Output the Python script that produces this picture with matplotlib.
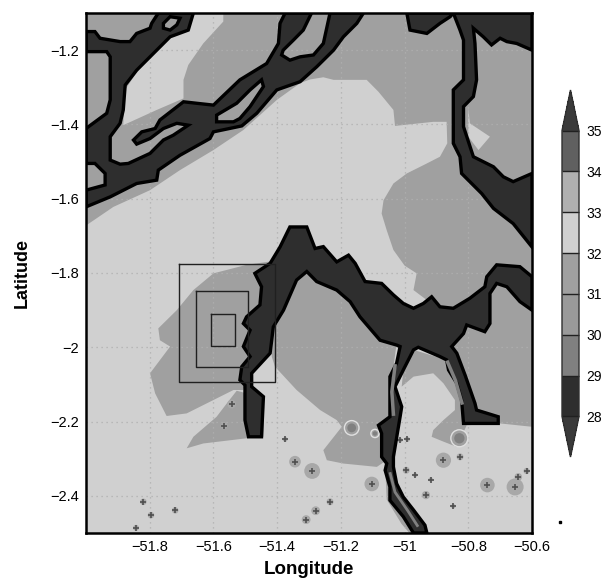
import matplotlib
matplotlib.use('Agg')
import matplotlib.pyplot as plt
from matplotlib.colors import ListedColormap, BoundaryNorm
from matplotlib.colorbar import ColorbarBase

plt.rcParams['font.family'] = ['Liberation Sans', 'DejaVu Sans']

# colour classes
levels = [28, 29, 30, 31, 32, 33, 34, 35]
level_colors = ['#2e2e2e', '#808080', '#9a9a9a', '#a0a0a0', '#d0d0d0', '#b0b0b0', '#606060']
under_color = '#3a3a3a'
over_color = '#3a3a3a'

xticks = [-51.8, -51.6, -51.4, -51.2, -51, -50.8, -50.6]
xticklabels = ['\u221251.8', '\u221251.6', '\u221251.4', '\u221251.2', '\u221251', '\u221250.8', '\u221250.6']
yticks = [-1.2, -1.4, -1.6, -1.8, -2, -2.2, -2.4]
yticklabels = ['\u22121.2', '\u22121.4', '\u22121.6', '\u22121.8', '\u22122', '\u22122.2', '\u22122.4']

# 31-32 area, north of the light water
mid_north = [(-52, -1.1), (-50.6, -1.1), (-50.6, -2.214), (-50.70, -2.205), (-50.805, -2.21), (-50.815, -2.187),
             (-50.868, -2.025), (-50.93, -1.873), (-50.972, -1.846), (-50.962, -1.801), (-51.0, -1.78),
             (-51.035, -1.738), (-51.056, -1.685), (-51.072, -1.64), (-51.066, -1.604), (-51.035, -1.559),
             (-50.993, -1.532), (-50.93, -1.505), (-50.889, -1.487), (-50.866, -1.451), (-50.868, -1.393),
             (-50.91, -1.393), (-51.03, -1.404), (-51.035, -1.361), (-51.082, -1.312), (-51.119, -1.28),
             (-51.223, -1.28), (-51.255, -1.273), (-51.297, -1.279), (-51.328, -1.289), (-51.401, -1.334),
             (-51.506, -1.415), (-51.6, -1.469), (-51.705, -1.523), (-51.799, -1.577), (-51.914, -1.622),
             (-51.998, -1.671), (-52, -1.671)]

# 32-33 strip inside the north area
light_strip = [(-51.663, -1.1), (-51.569, -1.1), (-51.569, -1.123), (-51.632, -1.182), (-51.679, -1.24),
               (-51.694, -1.28), (-51.694, -1.33), (-51.778, -1.361), (-51.883, -1.402), (-51.877, -1.307),
               (-51.83, -1.245), (-51.768, -1.182), (-51.705, -1.146)]
light_wedge = [(-50.8, -1.357), (-50.795, -1.397), (-50.732, -1.433), (-50.768, -1.469), (-50.8, -1.433)]

# 31-32 patches south of the light water
mid_west = [(-51.422, -1.769), (-51.496, -1.778), (-51.6, -1.801), (-51.663, -1.846), (-51.715, -1.9),
            (-51.773, -1.949), (-51.768, -1.981), (-51.736, -1.998), (-51.799, -2.07), (-51.783, -2.124),
            (-51.747, -2.185), (-51.684, -2.178), (-51.537, -2.115), (-51.506, -2.115), (-51.485, -2.034),
            (-51.443, -1.9)]
mid_wedge = [(-51.527, -2.117), (-51.558, -2.151), (-51.59, -2.187), (-51.663, -2.241), (-51.684, -2.272),
             (-51.632, -2.259), (-51.496, -2.245), (-51.443, -2.241), (-51.441, -2.16), (-51.496, -2.124)]
mid_center = [(-51.38, -1.85), (-51.3, -1.78), (-51.2, -1.8), (-51.1, -1.85), (-51.0, -1.92), (-51.025, -1.99),
              (-51.046, -2.124), (-51.056, -2.304), (-51.087, -2.322), (-51.192, -2.313), (-51.244, -2.304),
              (-51.255, -2.277), (-51.197, -2.214), (-51.213, -2.196), (-51.265, -2.169), (-51.339, -2.115),
              (-51.407, -2.052), (-51.417, -2.025), (-51.412, -1.945)]
mid_fork = [(-51.004, -2.061), (-50.972, -2.007), (-50.868, -2.034), (-50.815, -2.142), (-50.805, -2.21),
            (-50.836, -2.268), (-50.878, -2.254), (-50.915, -2.241), (-50.91, -2.223), (-50.878, -2.196),
            (-50.842, -2.169), (-50.842, -2.142), (-50.878, -2.097), (-50.91, -2.07), (-50.972, -2.079),
            (-51.009, -2.106)]
mid_fringe = [(-51.061, -2.32), (-51.056, -2.41), (-51.01, -2.475), (-50.985, -2.5), (-50.95, -2.5), (-51.03, -2.36)]

# 28-29 channels
dark_northwest = [(-52, -1.15), (-51.972, -1.15), (-51.956, -1.168), (-51.893, -1.177), (-51.862, -1.177),
                  (-51.841, -1.155), (-51.799, -1.141), (-51.794, -1.128), (-51.773, -1.1), (-51.663, -1.1),
                  (-51.679, -1.146), (-51.736, -1.164), (-51.799, -1.218), (-51.841, -1.254), (-51.877, -1.294),
                  (-51.883, -1.361), (-51.893, -1.397), (-51.924, -1.433), (-51.924, -1.496), (-51.893, -1.507),
                  (-51.867, -1.505), (-51.799, -1.478), (-51.757, -1.442), (-51.726, -1.429), (-51.679, -1.402),
                  (-51.715, -1.397), (-51.757, -1.411), (-51.799, -1.438), (-51.841, -1.453), (-51.851, -1.442),
                  (-51.825, -1.42), (-51.783, -1.411), (-51.768, -1.388), (-51.694, -1.339), (-51.653, -1.343),
                  (-51.6, -1.348), (-51.517, -1.28), (-51.433, -1.236), (-51.396, -1.182), (-51.391, -1.128),
                  (-51.375, -1.1), (-51.292, -1.1), (-51.318, -1.146), (-51.349, -1.173), (-51.381, -1.2),
                  (-51.386, -1.213), (-51.36, -1.227), (-51.328, -1.218), (-51.286, -1.213), (-51.255, -1.182),
                  (-51.234, -1.1), (-51.129, -1.1), (-51.15, -1.128), (-51.192, -1.164), (-51.223, -1.2),
                  (-51.276, -1.245), (-51.328, -1.285), (-51.401, -1.307), (-51.464, -1.37), (-51.511, -1.404),
                  (-51.6, -1.42), (-51.611, -1.438), (-51.705, -1.483), (-51.773, -1.523), (-51.778, -1.55),
                  (-51.841, -1.559), (-51.924, -1.595), (-52, -1.622), (-52, -1.577), (-51.94, -1.563),
                  (-51.94, -1.532), (-51.972, -1.505), (-52, -1.505), (-52, -1.411), (-51.935, -1.37),
                  (-51.924, -1.334), (-51.924, -1.218), (-51.935, -1.204), (-52, -1.204)]
hole_slit = [(-51.59, -1.393), (-51.59, -1.375), (-51.527, -1.343), (-51.485, -1.307), (-51.449, -1.28),
             (-51.443, -1.298), (-51.485, -1.352), (-51.517, -1.384), (-51.537, -1.393)]
hole_top = [(-51.757, -1.128), (-51.736, -1.11), (-51.705, -1.114), (-51.715, -1.132), (-51.736, -1.146),
            (-51.757, -1.141)]
dark_lobe = [(-50.993, -1.1), (-50.983, -1.146), (-50.93, -1.155), (-50.889, -1.128), (-50.857, -1.11),
             (-50.847, -1.1)]
dark_northeast = [(-50.847, -1.1), (-50.6, -1.1), (-50.6, -1.2), (-50.648, -1.182), (-50.679, -1.177),
                  (-50.70, -1.168), (-50.727, -1.186), (-50.753, -1.164), (-50.784, -1.141), (-50.779, -1.182),
                  (-50.774, -1.28), (-50.784, -1.325), (-50.815, -1.352), (-50.815, -1.406), (-50.784, -1.487),
                  (-50.721, -1.514), (-50.69, -1.541), (-50.659, -1.554), (-50.6, -1.532), (-50.6, -1.73),
                  (-50.659, -1.667), (-50.721, -1.626), (-50.758, -1.586), (-50.821, -1.532), (-50.826, -1.487),
                  (-50.847, -1.451), (-50.847, -1.307), (-50.815, -1.28), (-50.815, -1.173), (-50.826, -1.146)]
dark_center = [(-51.36, -1.676), (-51.307, -1.676), (-51.281, -1.734), (-51.255, -1.729), (-51.213, -1.77),
               (-51.176, -1.752), (-51.155, -1.774), (-51.124, -1.823), (-51.072, -1.828), (-51.035, -1.859),
               (-51.004, -1.882), (-50.972, -1.895), (-50.941, -1.882), (-50.915, -1.864), (-50.889, -1.891),
               (-50.847, -1.895), (-50.795, -1.868), (-50.748, -1.837), (-50.742, -1.81), (-50.711, -1.778),
               (-50.638, -1.783), (-50.6, -1.81), (-50.6, -1.9), (-50.638, -1.877), (-50.679, -1.837),
               (-50.711, -1.828), (-50.732, -1.855), (-50.732, -1.936), (-50.748, -1.958), (-50.805, -1.94),
               (-50.815, -1.963), (-50.852, -1.998), (-50.836, -2.016), (-50.81, -2.075), (-50.779, -2.151),
               (-50.774, -2.169), (-50.706, -2.187), (-50.706, -2.205), (-50.815, -2.205), (-50.821, -2.142),
               (-50.836, -2.097), (-50.862, -2.061), (-50.868, -2.034), (-50.889, -2.025), (-50.957, -2.0),
               (-50.972, -2.007), (-51.004, -2.061), (-51.03, -2.106), (-51.009, -2.16), (-51.014, -2.187),
               (-51.035, -2.295), (-51.035, -2.322), (-51.025, -2.367), (-51.004, -2.403), (-50.972, -2.438),
               (-50.936, -2.479), (-50.93, -2.5), (-50.972, -2.5), (-51.004, -2.456), (-51.046, -2.412),
               (-51.046, -2.376), (-51.061, -2.331), (-51.056, -2.313), (-51.072, -2.295), (-51.072, -2.232),
               (-51.082, -2.21), (-51.046, -2.187), (-51.046, -2.079), (-51.025, -2.043), (-51.014, -1.998),
               (-51.025, -1.994), (-51.077, -1.981), (-51.14, -1.918), (-51.171, -1.877), (-51.213, -1.846),
               (-51.276, -1.823), (-51.307, -1.796), (-51.339, -1.819), (-51.38, -1.9), (-51.412, -1.945),
               (-51.422, -2.016), (-51.48, -2.07), (-51.48, -2.106), (-51.443, -2.133), (-51.449, -2.241),
               (-51.49, -2.241), (-51.501, -2.196), (-51.501, -2.102), (-51.517, -2.088), (-51.511, -2.052),
               (-51.485, -2.025), (-51.506, -1.998), (-51.485, -1.954), (-51.506, -1.936), (-51.496, -1.918),
               (-51.454, -1.886), (-51.449, -1.837), (-51.47, -1.801), (-51.422, -1.774), (-51.391, -1.73)]

# 29-30 core of the narrow channels
core_left_lon = [-51.03, -51.04, -51.035]
core_left_lat = [-2.05, -2.12, -2.18]
core_right_lon = [-50.865, -50.84, -50.82]
core_right_lat = [-2.04, -2.09, -2.15]
core_south_lon = [-51.045, -51.03, -50.99, -50.96]
core_south_lat = [-2.34, -2.39, -2.44, -2.48]

# the three nested boxes
box_lon0 = [-51.707, -51.655, -51.609]
box_lon1 = [-51.407, -51.49, -51.532]
box_lat0 = [-1.776, -1.848, -1.911]
box_lat1 = [-2.093, -2.052, -1.996]

# small shallow spots
spot_lon = [-51.543, -51.566, -51.375, -51.344, -51.29, -51.82, -51.796, -51.72, -51.843, -51.279, -51.309,
            -51.234, -51.103, -51.014, -50.991, -50.995, -50.967, -50.918, -50.933, -50.847, -50.826,
            -50.878, -50.74, -50.653, -50.617, -50.643]
spot_lat = [-2.153, -2.211, -2.248, -2.308, -2.333, -2.416, -2.452, -2.439, -2.486, -2.44, -2.464,
            -2.416, -2.368, -2.25, -2.248, -2.331, -2.344, -2.356, -2.398, -2.428, -2.295,
            -2.304, -2.371, -2.376, -2.333, -2.349]
spot_size = [40, 25, 12, 70, 130, 22, 22, 22, 18, 40, 40,
             25, 110, 12, 12, 25, 10, 10, 35, 10, 25,
             120, 110, 150, 20, 30]
ring_lon = [-51.166, -51.093, -50.828]
ring_lat = [-2.217, -2.232, -2.245]
ring_size = [110, 35, 150]

fig = plt.figure(figsize=(6.08, 5.79), dpi=100)
ax = fig.add_axes([86 / 608, 1 - 533 / 579, (532 - 86) / 608, (533 - 13) / 579])
ax.set_facecolor(level_colors[4])

mid = level_colors[3]
dark = level_colors[0]


def fill(points, color, edge='none', lw=0, z=1):
    ax.fill([p[0] for p in points], [p[1] for p in points], facecolor=color, edgecolor=edge, linewidth=lw, zorder=z)


fill(mid_north, mid)
fill(light_strip, level_colors[4], z=2)
fill(light_wedge, level_colors[4], z=2)
for patch in [mid_west, mid_wedge, mid_center, mid_fork, mid_fringe]:
    fill(patch, mid, z=2)

# spots go under the channels
ax.scatter(spot_lon, spot_lat, s=spot_size, color='#a8a8a8', linewidths=0, zorder=3)
ax.scatter(spot_lon, spot_lat, s=14, marker='+', color='#505050', linewidths=1.2, zorder=3)
ax.scatter(ring_lon, ring_lat, s=ring_size, color=mid, edgecolors='#e0e0e0', linewidths=1, zorder=3)
ax.scatter(ring_lon, ring_lat, s=[40, 10, 55], color=level_colors[1], linewidths=0, zorder=3)

for patch in [dark_northwest, dark_lobe, dark_northeast, dark_center]:
    fill(patch, dark, 'black', 2.4, z=4)
for patch in [hole_slit, hole_top]:
    fill(patch, mid, 'black', 2.4, z=5)

ax.plot(core_left_lon, core_left_lat, color=level_colors[1], linewidth=2.5, zorder=5)
ax.plot(core_right_lon, core_right_lat, color=level_colors[1], linewidth=2.5, zorder=5)
ax.plot(core_south_lon, core_south_lat, color=level_colors[1], linewidth=2, zorder=5)

ax.set_xlim(-52, -50.6)
ax.set_ylim(-2.5, -1.1)
ax.set_xticks(xticks)
ax.set_xticklabels(xticklabels)
ax.set_yticks(yticks)
ax.set_yticklabels(yticklabels)
ax.tick_params(length=0, labelsize=10.5, pad=5)
ax.grid(True, color='#b0b0b0', linewidth=0.9, linestyle=(0, (1, 3)), zorder=6)
ax.set_axisbelow(False)

for i in range(3):
    x0, x1 = box_lon0[i], box_lon1[i]
    y0, y1 = box_lat0[i], box_lat1[i]
    ax.plot([x0, x1, x1, x0, x0], [y0, y0, y1, y1, y0], color='#202020', linewidth=1, zorder=7)

ax.plot([-50.512], [-2.471], marker='s', markersize=2, color='black', clip_on=False)

for s in ax.spines.values():
    s.set_linewidth(1.8)
    s.set_zorder(10)

ax.set_xlabel('Longitude', fontsize=13.5, fontweight='bold', labelpad=5)
ax.set_ylabel('Latitude', fontsize=13, fontweight='bold', labelpad=14)

# colour bar, the axes span the two end triangles as well
cax = fig.add_axes([562 / 608, 1 - 457 / 579, 17 / 608, (457 - 90) / 579])
cmap = ListedColormap(level_colors).with_extremes(under=under_color, over=over_color)
norm = BoundaryNorm(levels, cmap.N)
cb = ColorbarBase(cax, cmap=cmap, norm=norm, extend='both', extendfrac=0.142, spacing='uniform',
                  ticks=levels, drawedges=True)
cb.dividers.set_color('#202020')
cb.dividers.set_linewidth(1)
cb.outline.set_linewidth(1)
cb.outline.set_edgecolor('#303030')
cax.tick_params(length=0, labelsize=10, pad=5)

fig.savefig('out.png', dpi=100)
